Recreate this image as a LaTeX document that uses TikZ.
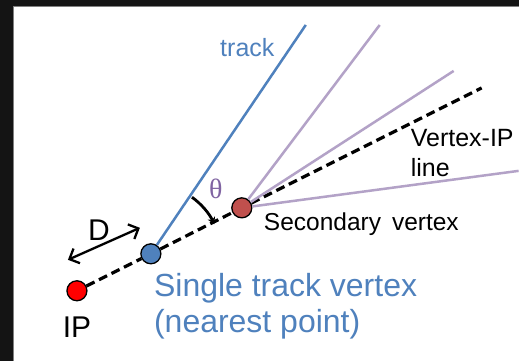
\documentclass[tikz,border=0pt]{standalone}
\usepackage{fontspec}
\setmainfont{Liberation Sans}
\newfontfamily\greekserif{Liberation Serif}
\usepackage{xcolor}
\usetikzlibrary{arrows.meta, calc}

\definecolor{trackblue}{RGB}{79,129,189}
\definecolor{lilac}{RGB}{179,162,199}
\definecolor{thetapurple}{RGB}{128,100,162}
\definecolor{svred}{RGB}{192,80,77}

\begin{document}
\begin{tikzpicture}[x=1pt, y=1pt,
    vtx/.style={draw, circle, line width=1.3pt, minimum size=20pt, inner sep=0pt},
    vipline/.style={line width=3.2pt, dash pattern=on 9pt off 5pt},
    trk/.style={line width=2.5pt, draw=trackblue},
    pur/.style={line width=2.5pt, draw=lilac},
    lbl/.style={inner sep=0pt}]
    % frame
    \fill[black!92] (0,0) rectangle (519,361);
    \fill[white] (14,0) rectangle (519,354);
    \draw[gray, line width=0.8pt] (13.6,0) -- (13.6,354.4) -- (519,354.4);
    \useasboundingbox (0,0) rectangle (519,361);

    % vertices
    \node (ip) [vtx, fill=red] at (77,70) {};
    \node (stv) [vtx, fill=trackblue] at (151,107) {};
    \node (sv) [vtx, fill=svred] at (242,153) {};
    \coordinate (vipend) at (482,273);
    \coordinate (trkend) at (306,336);
    \coordinate (pend1) at (380,336);
    \coordinate (pend2) at (454,290);
    \coordinate (pend3) at (519,190);
    \coordinate (darrA) at (68,101);
    \coordinate (darrB) at (140,133);

    % lines
    \draw [vipline] (ip) -- (stv) -- (sv) -- (vipend);
    \draw [trk] (stv) -- (trkend);
    \draw [pur] (sv) -- (pend1);
    \draw [pur] (sv) -- (pend2);
    \draw [pur] (sv) -- (pend3);
    \draw [line width=2.3pt, {Straight Barb[length=8pt,width=16pt]}-{Straight Barb[length=8pt,width=16pt]}] (darrA) -- (darrB);
    \draw [line width=2.8pt, -{Stealth[length=7pt,width=8pt]}] ($(stv.center)+(54:70)$) arc[start angle=54, end angle=25, radius=70];

    % labels
    \node (lbltrack) [lbl, text=trackblue, font=\fontsize{25}{30}\selectfont] at (247.5,313) {track};
    \node (lbltheta) [lbl, text=thetapurple, font=\fontsize{28}{32}\selectfont\greekserif] at (216,172) {θ};
    \node (lblD) [lbl, font=\fontsize{30}{36}\selectfont] at (99,131) {D};
    \node (lblip) [lbl, font=\fontsize{30}{36}\selectfont] at (77,34) {IP};
    \node (lblsv) [lbl, anchor=base west, font=\fontsize{24.5}{29}\selectfont] at (264,130) {Secondary\hspace{0.45em}vertex};
    \node (lblvip) [lbl, anchor=base west, align=left, font=\fontsize{25}{30}\selectfont] at (411,184) {Vertex-IP\\line};
    \node (lblstv) [lbl, anchor=base west, align=left, text=trackblue, font=\fontsize{32}{36}\selectfont] at (154,28) {Single track vertex\\(nearest point)};
\end{tikzpicture}
\end{document}
